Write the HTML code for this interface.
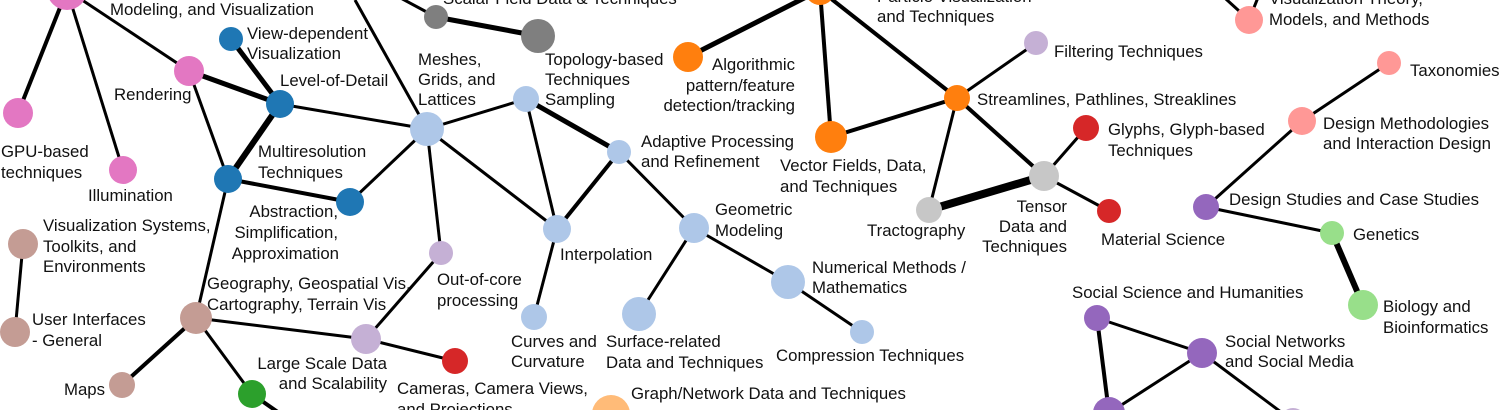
<!DOCTYPE html>
<html>
<head>
<meta charset="utf-8">
<style>
html,body{margin:0;padding:0;background:#fff;width:1500px;height:410px;overflow:hidden;}
svg{display:block;overflow:hidden;}
text{font-family:"Liberation Sans",Arial,sans-serif;font-size:16.8px;fill:#111;}
</style>
</head>
<body>
<svg width="1500" height="410" viewBox="0 0 1500 410" xmlns="http://www.w3.org/2000/svg">
<rect width="1500" height="410" fill="#fff"/>
<g stroke="#000" stroke-linecap="butt" fill="none">
  <line x1="67" y1="-10" x2="18" y2="113" stroke-width="4"/>
  <line x1="67" y1="-10" x2="123" y2="170" stroke-width="3"/>
  <line x1="67" y1="-10" x2="189" y2="71" stroke-width="3"/>
  <line x1="189" y1="71" x2="280" y2="104" stroke-width="5"/>
  <line x1="189" y1="71" x2="228" y2="179" stroke-width="3"/>
  <line x1="231" y1="39" x2="280" y2="104" stroke-width="5"/>
  <line x1="280" y1="104" x2="228" y2="179" stroke-width="6"/>
  <line x1="280" y1="104" x2="427" y2="129" stroke-width="3"/>
  <line x1="228" y1="179" x2="350" y2="202" stroke-width="4"/>
  <line x1="350" y1="202" x2="427" y2="129" stroke-width="3"/>
  <line x1="228" y1="179" x2="196" y2="318" stroke-width="3"/>
  <line x1="355" y1="0" x2="427" y2="129" stroke-width="3"/>
  <line x1="395" y1="-5" x2="436" y2="17" stroke-width="3"/>
  <line x1="436" y1="17" x2="538" y2="36" stroke-width="5"/>
  <line x1="427" y1="129" x2="526" y2="99" stroke-width="3"/>
  <line x1="427" y1="129" x2="557" y2="229" stroke-width="3"/>
  <line x1="427" y1="129" x2="441" y2="253" stroke-width="3"/>
  <line x1="526" y1="99" x2="619" y2="152" stroke-width="5"/>
  <line x1="526" y1="99" x2="557" y2="229" stroke-width="3"/>
  <line x1="619" y1="152" x2="557" y2="229" stroke-width="4"/>
  <line x1="619" y1="152" x2="694" y2="228" stroke-width="3"/>
  <line x1="557" y1="229" x2="534" y2="317" stroke-width="3"/>
  <line x1="694" y1="228" x2="639" y2="314" stroke-width="3"/>
  <line x1="694" y1="228" x2="788" y2="282" stroke-width="3"/>
  <line x1="788" y1="282" x2="862" y2="332" stroke-width="3"/>
  <line x1="441" y1="253" x2="366" y2="339" stroke-width="3"/>
  <line x1="196" y1="318" x2="366" y2="339" stroke-width="3"/>
  <line x1="366" y1="339" x2="455" y2="361" stroke-width="3"/>
  <line x1="196" y1="318" x2="122" y2="385" stroke-width="4"/>
  <line x1="196" y1="318" x2="252" y2="394" stroke-width="3"/>
  <line x1="252" y1="394" x2="292" y2="422" stroke-width="4"/>
  <line x1="23" y1="244" x2="15" y2="332" stroke-width="3"/>
  <line x1="688" y1="57" x2="820" y2="-10" stroke-width="5"/>
  <line x1="820" y1="-10" x2="831" y2="137" stroke-width="4"/>
  <line x1="820" y1="-10" x2="957" y2="98" stroke-width="4"/>
  <line x1="831" y1="137" x2="957" y2="98" stroke-width="4"/>
  <line x1="957" y1="98" x2="1036" y2="43" stroke-width="3"/>
  <line x1="957" y1="98" x2="1044" y2="176" stroke-width="4"/>
  <line x1="957" y1="98" x2="929" y2="210" stroke-width="3"/>
  <line x1="929" y1="210" x2="1044" y2="176" stroke-width="8"/>
  <line x1="1044" y1="176" x2="1086" y2="128" stroke-width="3"/>
  <line x1="1044" y1="176" x2="1109" y2="211" stroke-width="3"/>
  <line x1="1249" y1="20" x2="1205" y2="-20" stroke-width="3"/>
  <line x1="1249" y1="20" x2="1261" y2="-10" stroke-width="3"/>
  <line x1="1389" y1="63" x2="1302" y2="121" stroke-width="3"/>
  <line x1="1302" y1="121" x2="1206" y2="207" stroke-width="3"/>
  <line x1="1206" y1="207" x2="1332" y2="233" stroke-width="3"/>
  <line x1="1332" y1="233" x2="1363" y2="305" stroke-width="6"/>
  <line x1="1097" y1="318" x2="1202" y2="353" stroke-width="3"/>
  <line x1="1097" y1="318" x2="1109" y2="413" stroke-width="4"/>
  <line x1="1202" y1="353" x2="1109" y2="413" stroke-width="3"/>
  <line x1="1202" y1="353" x2="1293" y2="421" stroke-width="3"/>
</g>
<g stroke="none">
  <circle cx="67" cy="-10" r="20" fill="#e377c2"/>
  <circle cx="18" cy="113" r="15" fill="#e377c2"/>
  <circle cx="123" cy="170" r="14" fill="#e377c2"/>
  <circle cx="189" cy="71" r="15" fill="#e377c2"/>
  <circle cx="231" cy="39" r="12" fill="#1f77b4"/>
  <circle cx="280" cy="104" r="14" fill="#1f77b4"/>
  <circle cx="228" cy="179" r="14" fill="#1f77b4"/>
  <circle cx="350" cy="202" r="14" fill="#1f77b4"/>
  <circle cx="436" cy="17" r="12" fill="#7f7f7f"/>
  <circle cx="538" cy="36" r="17" fill="#7f7f7f"/>
  <circle cx="427" cy="129" r="17" fill="#aec7e8"/>
  <circle cx="526" cy="99" r="13" fill="#aec7e8"/>
  <circle cx="619" cy="152" r="12" fill="#aec7e8"/>
  <circle cx="557" cy="229" r="14" fill="#aec7e8"/>
  <circle cx="534" cy="317" r="13" fill="#aec7e8"/>
  <circle cx="639" cy="314" r="17" fill="#aec7e8"/>
  <circle cx="694" cy="228" r="15" fill="#aec7e8"/>
  <circle cx="788" cy="282" r="17" fill="#aec7e8"/>
  <circle cx="862" cy="332" r="12" fill="#aec7e8"/>
  <circle cx="441" cy="253" r="12" fill="#c5b0d5"/>
  <circle cx="366" cy="339" r="15" fill="#c5b0d5"/>
  <circle cx="1036" cy="43" r="12" fill="#c5b0d5"/>
  <circle cx="1293" cy="421" r="13" fill="#c5b0d5"/>
  <circle cx="455" cy="361" r="13" fill="#d62728"/>
  <circle cx="1086" cy="128" r="13" fill="#d62728"/>
  <circle cx="1109" cy="211" r="12" fill="#d62728"/>
  <circle cx="23" cy="244" r="15" fill="#c49c94"/>
  <circle cx="15" cy="332" r="15" fill="#c49c94"/>
  <circle cx="196" cy="318" r="16" fill="#c49c94"/>
  <circle cx="122" cy="385" r="13" fill="#c49c94"/>
  <circle cx="252" cy="394" r="14" fill="#2ca02c"/>
  <circle cx="820" cy="-10" r="15" fill="#ff7f0e"/>
  <circle cx="688" cy="57" r="15" fill="#ff7f0e"/>
  <circle cx="831" cy="137" r="16" fill="#ff7f0e"/>
  <circle cx="957" cy="98" r="13" fill="#ff7f0e"/>
  <circle cx="611" cy="414" r="19" fill="#ffbb78"/>
  <circle cx="1044" cy="176" r="15" fill="#c7c7c7"/>
  <circle cx="929" cy="210" r="13" fill="#c7c7c7"/>
  <circle cx="1249" cy="20" r="14" fill="#ff9896"/>
  <circle cx="1389" cy="63" r="12" fill="#ff9896"/>
  <circle cx="1302" cy="121" r="14" fill="#ff9896"/>
  <circle cx="1206" cy="207" r="13" fill="#9467bd"/>
  <circle cx="1097" cy="318" r="13" fill="#9467bd"/>
  <circle cx="1202" cy="353" r="15" fill="#9467bd"/>
  <circle cx="1109" cy="413" r="16" fill="#9467bd"/>
  <circle cx="1332" cy="233" r="12" fill="#98df8a"/>
  <circle cx="1363" cy="305" r="15" fill="#98df8a"/>
</g>
<g>
  <text x="110" y="15">Modeling, and Visualization</text>
  <text x="1" y="157">GPU-based</text>
  <text x="1" y="178">techniques</text>
  <text x="88" y="201">Illumination</text>
  <text x="114" y="100">Rendering</text>
  <text x="247" y="39">View-dependent</text>
  <text x="247" y="59">Visualization</text>
  <text x="280" y="86">Level-of-Detail</text>
  <text x="258" y="157">Multiresolution</text>
  <text x="258" y="178">Techniques</text>
  <text x="338" y="217" text-anchor="end">Abstraction,</text>
  <text x="338" y="238" text-anchor="end">Simplification,</text>
  <text x="339" y="259" text-anchor="end">Approximation</text>
  <text x="43" y="231">Visualization Systems,</text>
  <text x="43" y="252">Toolkits, and</text>
  <text x="43" y="272">Environments</text>
  <text x="32" y="325">User Interfaces</text>
  <text x="32" y="346">- General</text>
  <text x="207" y="289">Geography, Geospatial Vis,</text>
  <text x="207" y="310">Cartography, Terrain Vis</text>
  <text x="64" y="395">Maps</text>
  <text x="387" y="369" text-anchor="end">Large Scale Data</text>
  <text x="387" y="389" text-anchor="end">and Scalability</text>
  <text x="397" y="394">Cameras, Camera Views,</text>
  <text x="397" y="415">and Projections</text>
  <text x="443" y="4">Scalar Field Data &amp; Techniques</text>
  <text x="418" y="65">Meshes,</text>
  <text x="418" y="85">Grids, and</text>
  <text x="418" y="105">Lattices</text>
  <text x="545" y="65">Topology-based</text>
  <text x="545" y="85">Techniques</text>
  <text x="545" y="105">Sampling</text>
  <text x="795" y="70" text-anchor="end">Algorithmic</text>
  <text x="795" y="91" text-anchor="end">pattern/feature</text>
  <text x="795" y="111" text-anchor="end">detection/tracking</text>
  <text x="641" y="147">Adaptive Processing</text>
  <text x="641" y="167">and Refinement</text>
  <text x="560" y="260">Interpolation</text>
  <text x="437" y="285">Out-of-core</text>
  <text x="437" y="306">processing</text>
  <text x="511" y="347">Curves and</text>
  <text x="511" y="367">Curvature</text>
  <text x="606" y="347">Surface-related</text>
  <text x="606" y="368">Data and Techniques</text>
  <text x="715" y="215">Geometric</text>
  <text x="715" y="236">Modeling</text>
  <text x="812" y="273">Numerical Methods /</text>
  <text x="812" y="293">Mathematics</text>
  <text x="776" y="361">Compression Techniques</text>
  <text x="631" y="399">Graph/Network Data and Techniques</text>
  <text x="877" y="2">Particle Visualization</text>
  <text x="877" y="22">and Techniques</text>
  <text x="780" y="171">Vector Fields, Data,</text>
  <text x="780" y="192">and Techniques</text>
  <text x="977" y="105">Streamlines, Pathlines, Streaklines</text>
  <text x="1054" y="57">Filtering Techniques</text>
  <text x="1108" y="135">Glyphs, Glyph-based</text>
  <text x="1108" y="156">Techniques</text>
  <text x="1067" y="212" text-anchor="end">Tensor</text>
  <text x="1067" y="232" text-anchor="end">Data and</text>
  <text x="1067" y="252" text-anchor="end">Techniques</text>
  <text x="867" y="236">Tractography</text>
  <text x="1101" y="245">Material Science</text>
  <text x="1269" y="4">Visualization Theory,</text>
  <text x="1269" y="25">Models, and Methods</text>
  <text x="1410" y="76">Taxonomies</text>
  <text x="1323" y="129">Design Methodologies</text>
  <text x="1323" y="149">and Interaction Design</text>
  <text x="1229" y="205">Design Studies and Case Studies</text>
  <text x="1353" y="240">Genetics</text>
  <text x="1383" y="312">Biology and</text>
  <text x="1383" y="333">Bioinformatics</text>
  <text x="1072" y="298">Social Science and Humanities</text>
  <text x="1225" y="347">Social Networks</text>
  <text x="1225" y="367">and Social Media</text>
</g>
</svg>
</body>
</html>
